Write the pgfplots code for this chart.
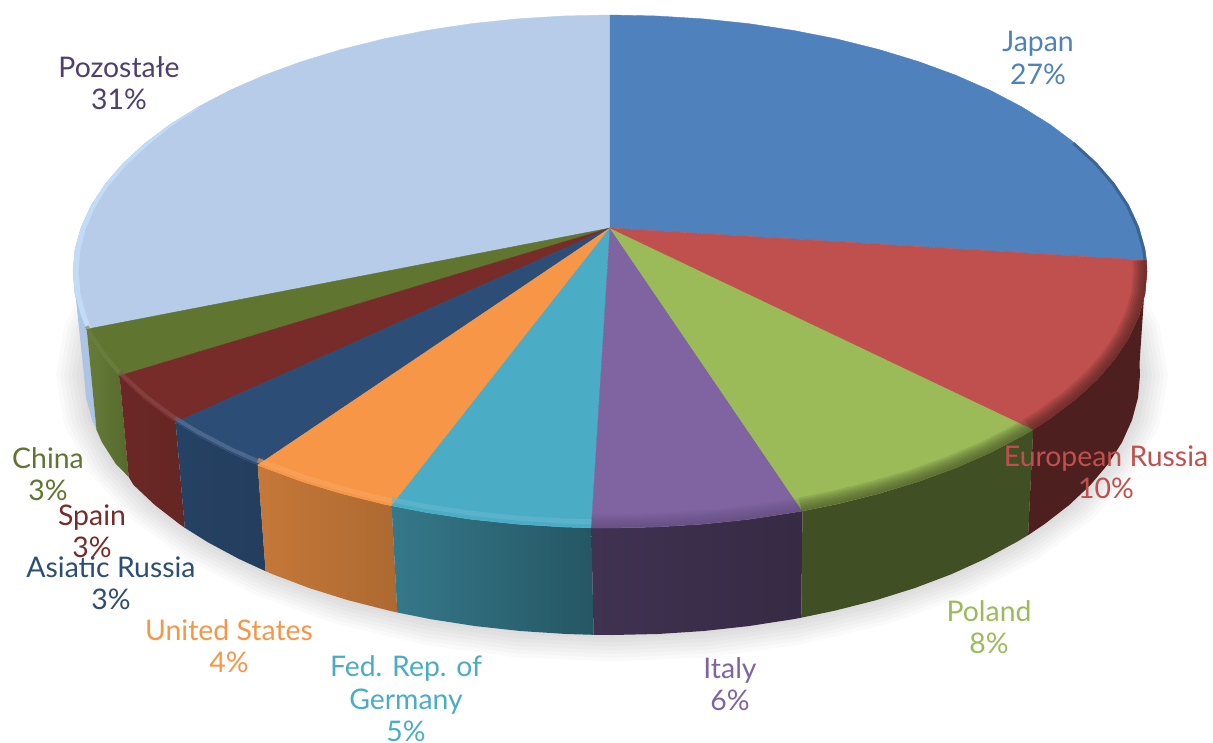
\documentclass[border=0pt]{standalone}
\usepackage{pgfplots}
\usepackage{pgfplotstable}
\usepackage{fontspec}
\setmainfont{Lato}
\pgfplotsset{compat=1.18}
\definecolor{cJ}{HTML}{4F81BD}\definecolor{cR}{HTML}{C0504D}\definecolor{cP}{HTML}{9BBB59}
\definecolor{cI}{HTML}{8064A2}\definecolor{cG}{HTML}{4BACC6}\definecolor{cU}{HTML}{F79646}
\definecolor{cA}{HTML}{2C4D75}\definecolor{cS}{HTML}{772C2A}\definecolor{cC}{HTML}{5F7530}
\definecolor{cO}{HTML}{B7CCE8}\definecolor{cL}{HTML}{4F3F6F}\definecolor{cB}{HTML}{C2DCF6}
\tikzset{
  lab/.style={align=center, font=\fontsize{28.5}{32.5}\selectfont, inner sep=0pt, anchor=center},
  side/.style={draw=none},
  face/.style={draw=#1, fill=#1, line width=0.4pt},
}
% top rim, one arc per slice
\pgfplotstableread{
x y
610 15
656.8 16
703.2 18.9
749 23.7
793.7 30.5
836.9 39
878.5 49.4
918 61.4
955.2 75
989.7 90.1
1021.3 106.6
1049.9 124.4
1075 143.25
1096.7 163.1
1114.6 183.8
1128.7 205.1
1138.8 227
1145 249.1
1146.5 260.3
}\arcJ
\pgfplotstableread{
x y
1075 143.25
1096.7 163.1
1114.6 183.8
1128.7 205.1
1138.8 227
1145 249.1
1146.5 260.3
}\arcJb
\pgfplotstableread{
x y
1146.5 260.3
1147 271.5
1145 293.9
1138.8 316
1128.7 337.9
1114.6 359.2
1096.7 379.9
1075 399.75
1049.9 418.6
1033.2 429.4
}\arcR
\pgfplotstableread{
x y
1033.2 429.4
1021.3 436.4
989.7 452.9
955.2 468
918 481.6
878.5 493.6
836.9 504
802.5 511
}\arcP
\pgfplotstableread{
x y
802.5 511
793.7 512.5
749 519.3
703.2 524.1
656.8 527
610 528
591.3 527.8
}\arcI
\pgfplotstableread{
x y
591.3 527.8
563.2 527
516.8 524.1
471 519.3
426.3 512.5
391.6 505.8
}\arcG
\pgfplotstableread{
x y
391.6 505.8
383.1 504
341.5 493.6
302 481.6
264.8 468
257.7 465.1
}\arcU
\pgfplotstableread{
x y
257.7 465.1
230.3 452.9
198.7 436.4
175.6 422.3
}\arcA
\pgfplotstableread{
x y
175.6 422.3
170.1 418.6
145 399.75
123.3 379.9
119.5 375.8
}\arcS
\pgfplotstableread{
x y
119.5 375.8
105.4 359.2
91.3 337.9
86.7 329.2
}\arcC
\pgfplotstableread{
x y
86.7 329.2
81.2 316
75 293.9
73 271.5
75 249.1
81.2 227
91.3 205.1
105.4 183.8
123.3 163.1
145 143.25
170.1 124.4
198.7 106.6
230.3 90.1
264.8 75
302 61.4
341.5 49.4
383.1 39
426.3 30.5
471 23.7
516.8 18.9
563.2 16
610 15
}\arcO
% left bevel of the last slice: outer rim, then inner edge back
\pgfplotstableread{
x y
86.7 329.2
81.2 316
75 293.9
73 271.5
75 249.1
81.2 227
91.3 205.1
105.4 183.8
123.3 163.1
145 143.25
170.1 124.4
198.7 106.6
200 107
171.5 126
147.5 145.5
126 165.5
108.5 186
95 207.5
85.5 229.5
80 251
78.5 272
80.5 294
86 315
91 328
}\bevO
% bottom outline for the shadow
\pgfplotstableread{
x y
1108.2 286.1
1132 329.9
1140 375
1132 420.1
1108.2 463.9
1069.2 505
1016.4 542.1
951.4 574.2
876 600.2
792.6 619.3
703.7 631
612 635
520.3 631
431.4 619.3
348 600.2
272.6 574.2
207.6 542.1
154.8 505
115.8 463.9
92 420.1
84 375
92 329.9
115.8 286.1
}\botO
% side faces: top rim forwards, bottom rim backwards
\pgfplotstableread{
x y
1146.5 260.3
1147 271.5
1145 293.9
1138.8 316
1128.7 337.9
1114.6 359.2
1096.7 379.9
1075 399.75
1049.9 418.6
1033.2 429.4
1028.1 535.1
1044.5 524.1
1069.2 505
1090.5 484.9
1108.2 463.9
1122 442.3
1132 420.1
1138 397.7
1140 375
1139.5 363.7
}\sideR
\pgfplotstableread{
x y
1033.2 429.4
1021.3 436.4
989.7 452.9
955.2 468
918 481.6
878.5 493.6
836.9 504
802.5 511
801.2 617.7
835.1 610.6
876 600.2
914.9 588
951.4 574.2
985.3 558.8
1016.4 542.1
1028.1 535.1
}\sideP
\pgfplotstableread{
x y
802.5 511
793.7 512.5
749 519.3
703.2 524.1
656.8 527
610 528
591.3 527.8
593.6 634.8
612 635
658 634
703.7 631
748.6 626.1
792.6 619.3
801.2 617.7
}\sideI
\pgfplotstableread{
x y
591.3 527.8
563.2 527
516.8 524.1
471 519.3
426.3 512.5
391.6 505.8
397.3 612.5
431.4 619.3
475.4 626.1
520.3 631
566 634
593.6 634.8
}\sideG
\pgfplotstableread{
x y
391.6 505.8
383.1 504
341.5 493.6
302 481.6
264.8 468
257.7 465.1
265.6 571.2
272.6 574.2
309.1 588
348 600.2
388.9 610.6
397.3 612.5
}\sideU
\pgfplotstableread{
x y
257.7 465.1
230.3 452.9
198.7 436.4
175.6 422.3
184.8 527.8
207.6 542.1
238.7 558.8
265.6 571.2
}\sideA
\pgfplotstableread{
x y
175.6 422.3
170.1 418.6
145 399.75
123.3 379.9
119.5 375.8
128.7 477
133.5 484.9
154.8 505
179.5 524.1
184.8 527.8
}\sideS
\pgfplotstableread{
x y
119.5 375.8
105.4 359.2
91.3 337.9
86.7 329.2
96.5 430
102 442.3
115.8 463.9
128.7 477
}\sideC
\pgfplotstableread{
x y
86.7 329.2
81.2 316
75 293.9
73 271.5
84 375
86 397.7
92 420.1
96.5 430
}\sideO
\begin{document}
\begin{tikzpicture}
\path[use as bounding box] (0,0) rectangle (1213bp,743bp);
\begin{axis}[
  at={(0,0)}, anchor=south west,
  scale only axis, width=1213bp, height=743bp,
  xmin=0, xmax=1213, ymin=0, ymax=743, y dir=reverse,
  hide axis, clip=false, no markers,
]
% soft shadow
\pgfplotsinvokeforeach{4,8,12,16,20,24,28}{
  \addplot[draw=none, fill=black, fill opacity=0.02]
    table[x expr={612+(\thisrow{x}-612)*(528+#1)/528}, y expr={375+(\thisrow{y}-375)*(260+#1*0.95)/260}] {\botO} -- cycle;
}
% side faces
\addplot[side, fill=cO!90!cJ] table {\sideO} -- cycle;
\addplot[side, left color=cC!95!white, right color=cC!90!black] table {\sideC} -- cycle;
\addplot[side, left color=cS!90!black, right color=cS!85!black] table {\sideS} -- cycle;
\addplot[side, left color=cA!85!black, right color=cA!80!black] table {\sideA} -- cycle;
\addplot[side, left color=cU!80!black, right color=cU!70!black] table {\sideU} -- cycle;
\addplot[side, left color=cG!70!black, right color=cG!50!black] table {\sideG} -- cycle;
\addplot[side, left color=cI!50!black, right color=cI!42!black] table {\sideI} -- cycle;
\addplot[side, fill=cP!42!black] table {\sideP} -- cycle;
\addplot[side, fill=cR!40!black] table {\sideR} -- cycle;
% top faces
\addplot[face=cO] table {\arcO} -- (axis cs:610,228) -- cycle;
\addplot[face=cJ] table {\arcJ} -- (axis cs:610,228) -- cycle;
\addplot[face=cC] table {\arcC} -- (axis cs:610,228) -- cycle;
\addplot[face=cS] table {\arcS} -- (axis cs:610,228) -- cycle;
\addplot[face=cA] table {\arcA} -- (axis cs:610,228) -- cycle;
\addplot[face=cU] table {\arcU} -- (axis cs:610,228) -- cycle;
\addplot[face=cG] table {\arcG} -- (axis cs:610,228) -- cycle;
\addplot[face=cI] table {\arcI} -- (axis cs:610,228) -- cycle;
\addplot[face=cP] table {\arcP} -- (axis cs:610,228) -- cycle;
\addplot[face=cR] table {\arcR} -- (axis cs:610,228) -- cycle;
% bevels
\addplot[draw=none, fill=cB] table {\bevO} -- cycle;
\pgfplotsinvokeforeach{14,12,10,8,6,4,2}{
  \addplot[line width=#1bp, draw=cR!40!black, opacity=.14] table[x expr={610+(\thisrow{x}-610)*(537-#1/2)/537}, y expr={271.5+(\thisrow{y}-271.5)*(256.5-#1/2)/256.5}] {\arcR};
  \addplot[line width=#1bp, draw=cP!42!black, opacity=.14] table[x expr={610+(\thisrow{x}-610)*(537-#1/2)/537}, y expr={271.5+(\thisrow{y}-271.5)*(256.5-#1/2)/256.5}] {\arcP};
  \addplot[line width=#1bp, draw=cI!50!black, opacity=.05] table[x expr={610+(\thisrow{x}-610)*(537-#1/2)/537}, y expr={271.5+(\thisrow{y}-271.5)*(256.5-#1/2)/256.5}] {\arcI};
}
\addplot[line width=3bp, draw=cJ!55!black, opacity=.5] table[x expr=\thisrow{x}-1.5] {\arcJb};
\addplot[line width=5bp, draw=cG!85!white, opacity=.6] table[y expr=\thisrow{y}-6] {\arcG};
\addplot[line width=5bp, draw=cU!85!white, opacity=.6] table[y expr=\thisrow{y}-5] {\arcU};
\addplot[line width=4bp, draw=cA!75!white, opacity=.6] table[y expr=\thisrow{y}-4] {\arcA};
\addplot[line width=4bp, draw=cS!85!white, opacity=.6] table[y expr=\thisrow{y}-4] {\arcS};
\addplot[line width=4bp, draw=cC!90!white, opacity=.6] table[y expr=\thisrow{y}-3] {\arcC};
% labels
\node[lab, text=cJ] at (axis cs:1038,58) {Japan\\27\%};
\node[lab, text=cR] at (axis cs:1106,472) {European Russia\\10\%};
\node[lab, text=cP] at (axis cs:989,627) {Poland\\8\%};
\node[lab, text=cI] at (axis cs:730,684) {Italy\\6\%};
\node[lab, text=cG] at (axis cs:406,699) {Fed. Rep. of\\Germany\\5\%};
\node[lab, text=cU] at (axis cs:229,646) {United States\\4\%};
\node[lab, text=cA] at (axis cs:111,583) {Asiatic Russia\\3\%};
\node[lab, text=cS] at (axis cs:92,531) {Spain\\3\%};
\node[lab, text=cC] at (axis cs:48,474) {China\\3\%};
\node[lab, text=cL] at (axis cs:119,83) {Pozostałe\\31\%};
\end{axis}
\end{tikzpicture}
\end{document}
